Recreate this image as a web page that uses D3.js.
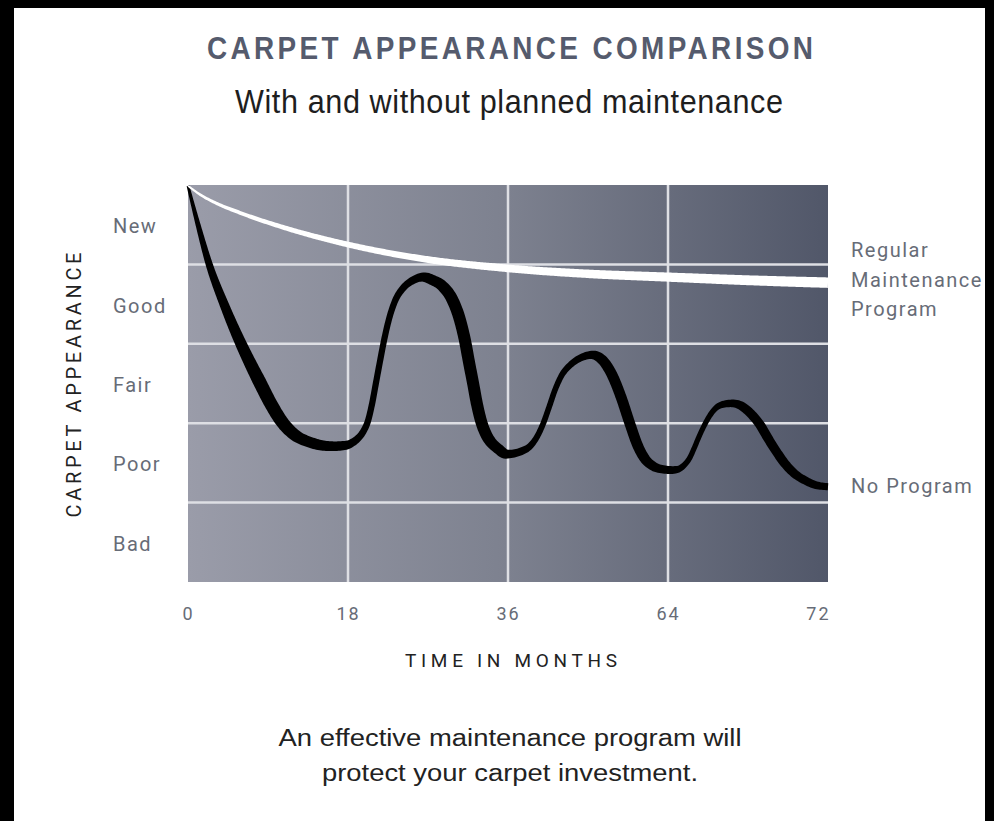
<!DOCTYPE html>
<html>
<head>
<meta charset="utf-8">
<script src="https://cdnjs.cloudflare.com/ajax/libs/d3/7.8.5/d3.min.js"></script>
<style>
  body { margin: 0; background: #000; }
  svg { display: block; }
</style>
</head>
<body>
<script>
// appearance grades, bottom to top
var grades = ["Bad", "Poor", "Fair", "Good", "New"];
var monthTicks = [0, 18, 36, 64, 72];

// regular maintenance program (month, appearance on 0..5 scale)
var regularMonths = [0, 1.35, 3.38, 5.85, 10.91, 18, 26.44, 36, 50.35, 64, 68.05, 72];
var regularValues = [4.99, 4.88, 4.76, 4.65, 4.46, 4.25, 4.07, 3.95, 3.88, 3.84, 3.8, 3.77];

// no program
var noProgramMonths = [
    0, 1.13, 2.36, 4.16, 5.96, 6.98, 8.1, 9.34, 10.69, 12.04, 13.73, 15.08, 16.31,
    17.66, 18.56, 19.13, 19.69, 20.25, 20.7, 21.15, 21.6, 22.05, 22.61, 23.29, 24.19, 25.31, 26.44,
    27.56, 28.69, 29.81, 30.49, 31.16, 31.61, 32.06, 32.51, 32.96, 33.53, 34.09, 34.76, 35.89,
    38.45, 39.85, 41.08, 42.13, 43.18, 44.23, 45.45, 46.85, 48.95, 50.7,
    52.45, 54.2, 55.78, 57.35, 58.75, 59.98, 61.38, 62.95, 64.2,
    64.5, 64.8, 65.1, 65.3, 65.55, 65.85, 66.1, 66.35, 66.8, 67.2,
    67.65, 68.1, 68.6, 69.0, 69.4, 69.85, 70.35, 70.85, 71.4, 72];
var noProgramValues = [
    4.99, 4.5, 4.01, 3.47, 3.0, 2.76, 2.51, 2.24, 2.0, 1.85, 1.76, 1.72, 1.71,
    1.72, 1.76, 1.81, 1.89, 2.03, 2.24, 2.51, 2.78, 3.04, 3.31, 3.54, 3.7, 3.8, 3.84,
    3.8, 3.72, 3.54, 3.34, 3.04, 2.77, 2.51, 2.24, 2.03, 1.86, 1.76, 1.69, 1.61,
    1.65, 1.71, 1.83, 1.99, 2.2, 2.42, 2.61, 2.73, 2.83, 2.86,
    2.8, 2.61, 2.33, 1.99, 1.71, 1.55, 1.46, 1.42, 1.41,
    1.42, 1.47, 1.57, 1.68, 1.83, 1.99, 2.1, 2.18, 2.24, 2.25,
    2.22, 2.13, 1.98, 1.81, 1.65, 1.49, 1.36, 1.28, 1.22, 1.2];

var W = 994, H = 821;
var x0 = 188, x1 = 828, y0 = 185, y1 = 582;

var svg = d3.select("body").append("svg").attr("width", W).attr("height", H);

svg.append("rect").attr("width", W).attr("height", H).attr("fill", "#000");
svg.append("rect").attr("x", 14).attr("y", 8).attr("width", 971).attr("height", H - 8).attr("fill", "#fff");

// ticks sit at equal spacing even though the months are not
var x = d3.scaleLinear()
    .domain(monthTicks)
    .range(monthTicks.map(function(d, i) { return x0 + i * (x1 - x0) / (monthTicks.length - 1); }));
var y = d3.scaleLinear().domain([0, grades.length]).range([y1, y0]);
var yBand = d3.scaleBand().domain(grades.slice().reverse()).range([y0, y1]);

// background gradient
var grad = svg.append("defs").append("linearGradient").attr("id", "bg")
    .attr("x1", "0%").attr("x2", "100%").attr("y1", "0%").attr("y2", "0%");
grad.append("stop").attr("offset", "0%").attr("stop-color", "#9a9ca9");
grad.append("stop").attr("offset", "50%").attr("stop-color", "#7d818f");
grad.append("stop").attr("offset", "100%").attr("stop-color", "#515769");

svg.append("rect")
    .attr("x", x0).attr("y", y0)
    .attr("width", x1 - x0).attr("height", y1 - y0)
    .attr("fill", "url(#bg)");

// grid
svg.append("g").selectAll("line")
    .data(monthTicks.slice(1, -1))
    .enter().append("line")
    .attr("x1", function(d) { return x(d); })
    .attr("x2", function(d) { return x(d); })
    .attr("y1", y0).attr("y2", y1)
    .attr("stroke", "#dedfe4").attr("stroke-width", 2.5);

svg.append("g").selectAll("line")
    .data(yBand.domain().slice(1))
    .enter().append("line")
    .attr("x1", x0).attr("x2", x1)
    .attr("y1", function(d) { return yBand(d); })
    .attr("y2", function(d) { return yBand(d); })
    .attr("stroke", "#dedfe4").attr("stroke-width", 2.5);

// variable width stroke, built from the line path
function ribbon(months, values, widthAt) {
    var pts = months.map(function(m, i) { return [m, values[i]]; });
    var line = d3.line()
        .x(function(d) { return x(d[0]); })
        .y(function(d) { return y(d[1]); })
        .curve(d3.curveMonotoneX);
    var tmp = svg.append("path").attr("d", line(pts)).attr("fill", "none");
    var node = tmp.node();
    var len = node.getTotalLength();
    var n = Math.ceil(len / 1.5);
    var left = [], right = [];
    for (var i = 0; i <= n; i++) {
        var s = len * i / n;
        var p = node.getPointAtLength(s);
        var pa = node.getPointAtLength(Math.max(0, s - 3));
        var pb = node.getPointAtLength(Math.min(len, s + 3));
        var dx = pb.x - pa.x, dy = pb.y - pa.y;
        var dl = Math.sqrt(dx * dx + dy * dy) || 1;
        var nx = -dy / dl, ny = dx / dl;
        var w = widthAt(s, dy / dl, (p.x - x0) / (x1 - x0)) / 2;
        left.push([p.x + nx * w, p.y + ny * w]);
        right.push([p.x - nx * w, p.y - ny * w]);
    }
    tmp.remove();
    return "M" + left.concat(right.reverse()).join("L") + "Z";
}

svg.append("path")
    .attr("d", ribbon(noProgramMonths, noProgramValues, function(s, sinT, fx) {
        var taper = Math.min(1, 0.2 + s / 260);
        return Math.max(1.5, (10 + 3.5 * sinT) * (1.05 - 0.35 * fx) * taper);
    }))
    .attr("fill", "#000");

svg.append("path")
    .attr("d", ribbon(regularMonths, regularValues, function(s, sinT, fx) {
        return 1.5 + 9 * Math.pow(Math.max(0, fx), 0.55);
    }))
    .attr("fill", "#fff");

// x axis labels
var gx = svg.append("g")
    .attr("transform", "translate(0,620)")
    .call(d3.axisBottom(x).tickValues(monthTicks).tickSize(0).tickPadding(0));
gx.select(".domain").remove();
gx.attr("font-family", "Roboto, sans-serif").attr("font-size", 18);
gx.selectAll("text")
    .attr("y", 0).attr("dy", 0)
    .attr("fill", "#676c77")
    .style("letter-spacing", "2px");
gx.selectAll(".tick").filter(function(d) { return d === monthTicks[monthTicks.length - 1]; })
    .select("text").attr("text-anchor", "end").attr("x", 2);

// y axis labels
var gy = svg.append("g")
    .attr("transform", "translate(113,2)")
    .call(d3.axisLeft(yBand).tickSize(0).tickPadding(0));
gy.select(".domain").remove();
gy.attr("font-family", "Roboto, sans-serif").attr("font-size", 20);
gy.selectAll("text")
    .attr("x", 0).attr("text-anchor", "start")
    .attr("fill", "#676c77")
    .style("letter-spacing", "1.5px");

// titles (narrowed a little to look condensed)
svg.append("g").attr("transform", "translate(510,59) scale(0.9,1)")
  .append("text")
    .attr("text-anchor", "middle")
    .attr("font-family", "'Liberation Sans', Arial, sans-serif")
    .attr("font-weight", "bold").attr("font-size", 31)
    .attr("fill", "#555b6d")
    .attr("textLength", 606 / 0.9).attr("lengthAdjust", "spacing")
    .text("CARPET APPEARANCE COMPARISON");

svg.append("g").attr("transform", "translate(509,113) scale(0.9,1)")
  .append("text")
    .attr("text-anchor", "middle")
    .attr("font-family", "'Liberation Sans', Arial, sans-serif")
    .attr("font-size", 34)
    .attr("fill", "#1e1e1e")
    .attr("textLength", 548 / 0.9).attr("lengthAdjust", "spacing")
    .text("With and without planned maintenance");

svg.append("text")
    .attr("transform", "translate(81,385) rotate(-90)")
    .attr("text-anchor", "middle")
    .attr("font-family", "Roboto, sans-serif")
    .attr("font-size", 20)
    .attr("fill", "#222")
    .attr("textLength", 265).attr("lengthAdjust", "spacing")
    .text("CARPET APPEARANCE");

svg.append("text")
    .attr("x", 511).attr("y", 667)
    .attr("text-anchor", "middle")
    .attr("font-family", "Roboto, sans-serif")
    .attr("font-size", 19)
    .attr("fill", "#222")
    .attr("textLength", 212).attr("lengthAdjust", "spacing")
    .text("TIME IN MONTHS");

// series labels
var rightLabels = svg.append("g")
    .attr("font-family", "Roboto, sans-serif").attr("font-size", 20)
    .attr("fill", "#676c77").style("letter-spacing", "1.5px");
["Regular", "Maintenance", "Program"].forEach(function(t, i) {
    rightLabels.append("text").attr("x", 851).attr("y", 257 + i * 29.5).text(t);
});
rightLabels.append("text").attr("x", 851).attr("y", 493).text("No Program");

// caption
var caption = ["An effective maintenance program will", "protect your carpet investment."];
var captionWidths = [463, 376];
caption.forEach(function(t, i) {
    svg.append("text")
        .attr("x", 510).attr("y", 746 + i * 35)
        .attr("text-anchor", "middle")
        .attr("font-family", "'Liberation Sans', sans-serif")
        .attr("font-size", 23)
        .attr("fill", "#222")
        .attr("textLength", captionWidths[i]).attr("lengthAdjust", "spacingAndGlyphs")
        .text(t);
});
</script>
</body>
</html>
